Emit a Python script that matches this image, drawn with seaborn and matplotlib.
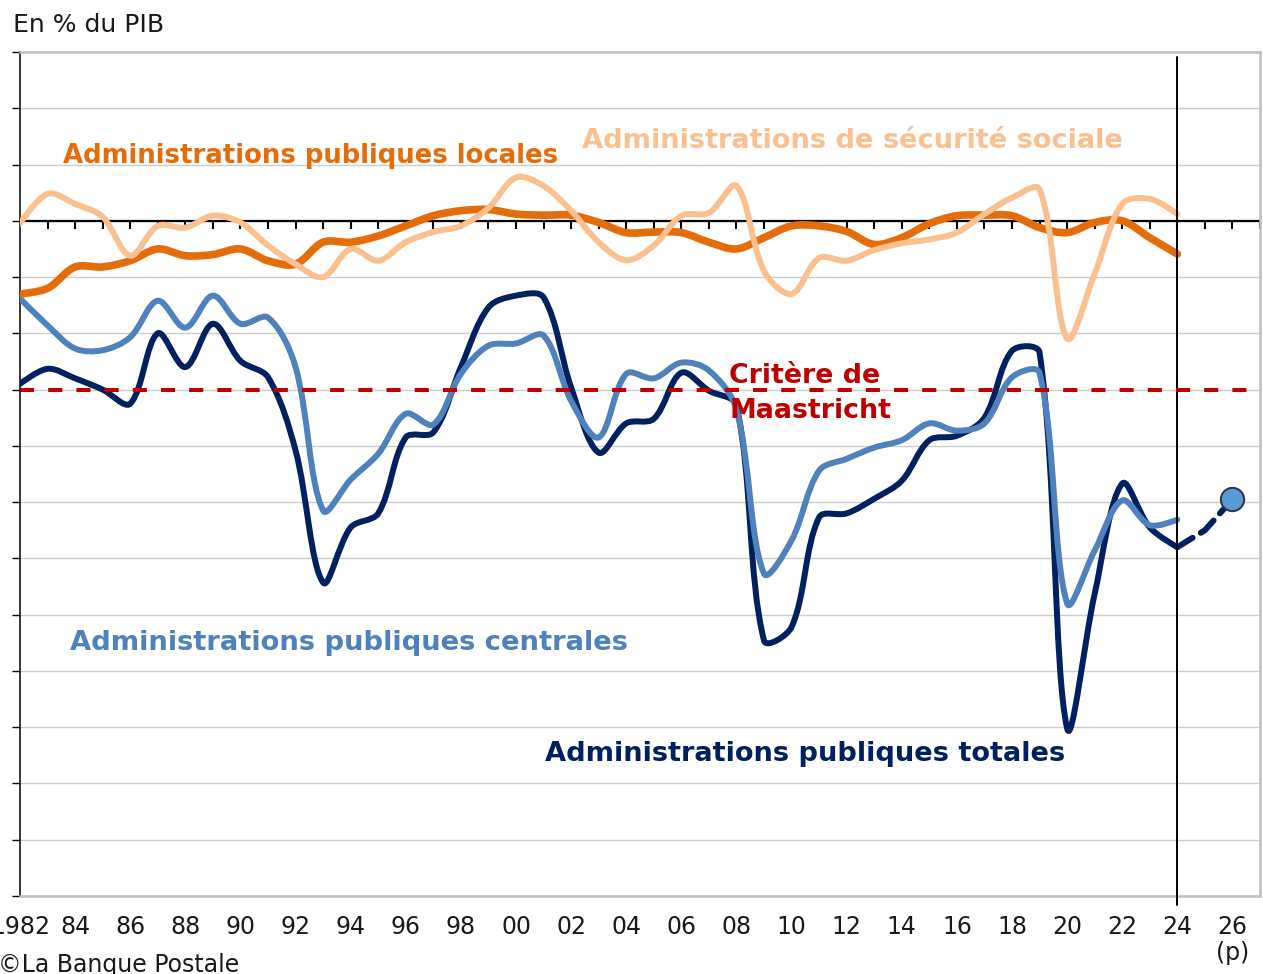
import numpy as np
import matplotlib
matplotlib.use("Agg")
import matplotlib.pyplot as plt
import seaborn as sns
from matplotlib.path import Path
from matplotlib.patches import PathPatch

# Solde des administrations publiques, en % du PIB
years = list(range(1982, 2025))

total = [-2.9, -2.63, -2.8, -3.0, -3.25, -2.0, -2.6, -1.83, -2.49, -2.78,
         -4.08, -6.43, -5.45, -5.2, -3.85, -3.76, -2.6, -1.54, -1.33, -1.36,
         -2.96, -4.12, -3.6, -3.52, -2.7, -3.02, -3.28, -7.46, -7.22, -5.27,
         -5.2, -4.94, -4.62, -3.9, -3.82, -3.5, -2.31, -2.34, -9.02, -6.63,
         -4.67, -5.45, -5.8]

centrales = [-1.38, -1.86, -2.27, -2.3, -2.07, -1.42, -1.9, -1.33, -1.83, -1.72,
             -2.6, -5.15, -4.6, -4.14, -3.43, -3.62, -2.72, -2.22, -2.18, -2.04,
             -3.2, -3.85, -2.72, -2.8, -2.52, -2.66, -3.35, -6.27, -5.68, -4.44,
             -4.23, -4.03, -3.9, -3.6, -3.73, -3.6, -2.78, -2.7, -6.8, -5.86,
             -4.97, -5.41, -5.31]

locales = [-1.3, -1.2, -0.82, -0.82, -0.71, -0.5, -0.62, -0.6, -0.5, -0.71,
           -0.77, -0.38, -0.38, -0.27, -0.09, 0.09, 0.18, 0.2, 0.12, 0.1,
           0.1, -0.03, -0.21, -0.2, -0.21, -0.38, -0.5, -0.3, -0.09, -0.09,
           -0.19, -0.42, -0.3, -0.05, 0.09, 0.1, 0.09, -0.12, -0.21, -0.03,
           0.0, -0.3, -0.59]

secu = [-0.05, 0.48, 0.3, 0.07, -0.62, -0.09, -0.12, 0.09, -0.03, -0.44,
        -0.77, -1.0, -0.5, -0.71, -0.38, -0.2, -0.09, 0.23, 0.77, 0.62,
        0.18, -0.38, -0.7, -0.44, 0.09, 0.14, 0.62, -0.89, -1.3, -0.66,
        -0.71, -0.52, -0.4, -0.33, -0.21, 0.12, 0.41, 0.56, -2.09, -0.94,
        0.3, 0.39, 0.12]

# prévision
proj_years = [2024, 2025, 2026]
proj_total = [-5.8, -5.5, -4.95]

tick_years = list(range(1982, 2027, 2))
tick_labels = ["1982"] + [str(y)[2:] for y in tick_years[1:-1]] + ["26\n(p)"]

NAVY = "#002060"
BLUE = "#4F81BD"
ORANGE = "#E46C0A"
PEACH = "#FAC090"
RED = "#C00000"

sns.set_style("white")
plt.rcParams["font.family"] = ["DejaVu Sans"]

# échelle approx. en pixels (pour un lissage proche d'Excel)
PX_YEAR, PX_PCT = 27.55, 56.33


def smooth_path(x, y):
    pts = np.column_stack([x, y]).astype(float)
    scr = pts * [PX_YEAR, PX_PCT]
    n = len(pts)
    seg = np.hypot(*np.diff(scr, axis=0).T)
    out_c, in_c = [], []
    for i in range(n):
        if i == 0 or i == n - 1:
            out_c.append(pts[i])
            in_c.append(pts[i])
            continue
        tan = pts[i + 1] - pts[i - 1]
        d0, d1 = seg[i - 1], seg[i]
        in_c.append(pts[i] - tan * d0 / (d0 + d1) / 3)
        out_c.append(pts[i] + tan * d1 / (d0 + d1) / 3)
    verts = [pts[0]]
    codes = [Path.MOVETO]
    for i in range(n - 1):
        verts += [out_c[i], in_c[i + 1], pts[i + 1]]
        codes += [Path.CURVE4] * 3
    return Path(verts, codes)


fig = plt.figure(figsize=(12.63, 9.74), dpi=100)
ax = fig.add_axes([20 / 1263, 1 - 896 / 974, 1240 / 1263, 844 / 974])

ax.set_xlim(1982, 2027)
ax.set_ylim(-12, 3)

# grille
ax.set_yticks(range(-12, 4))
ax.yaxis.grid(True, color="#CCCCCC", lw=1)
ax.set_axisbelow(True)
ax.tick_params(axis="y", left=True, length=6, width=1, color="black", labelleft=False)
ax.set_xticks(tick_years)
ax.set_xticklabels(tick_labels, fontsize=17, color="#1a1a1a", linespacing=1.1)
ax.tick_params(axis="x", length=0, pad=14)

for side in ["top", "right", "bottom"]:
    ax.spines[side].set_color("#BFBFBF")
    ax.spines[side].set_linewidth(1.8)
ax.spines["left"].set_color("black")
ax.spines["left"].set_linewidth(1.1)

# axe du zéro avec graduations annuelles
ax.axhline(0, color="black", lw=1.6, zorder=1.5)
ax.vlines(range(1983, 2028), -0.15, 0, color="black", lw=1.5, zorder=1.5)

series = [(total, NAVY, 4.3), (centrales, BLUE, 4.3), (locales, ORANGE, 5.5), (secu, PEACH, 4.3)]
for vals, col, lw in series:
    ax.add_patch(PathPatch(smooth_path(years, vals), facecolor="none", edgecolor=col,
                           lw=lw, capstyle="round", joinstyle="round", zorder=3))

sns.lineplot(x=proj_years, y=proj_total, ax=ax, color=NAVY, lw=4.3,
             linestyle=(0, (3, 1.6)), dash_capstyle="round", zorder=3)
sns.scatterplot(x=[proj_years[-1]], y=[proj_total[-1]], ax=ax, s=280, color="#5B9BD5",
                edgecolor="#2E3A4A", linewidth=1.5, zorder=5)

# critère de Maastricht
ax.axhline(-3, color=RED, lw=2.9, linestyle=(0, (3.5, 3.5)), zorder=6)

ax.axvline(2024, ymin=-0.011, ymax=0.994, color="black", lw=1.4, zorder=4, clip_on=False)

lab = dict(fontweight="bold", va="baseline", ha="left", zorder=7)
ax.text(1983.56, 1.03, "Administrations publiques locales", color=ORANGE, fontsize=18.7, **lab)
ax.text(2002.4, 1.30, "Administrations de sécurité sociale", color=PEACH, fontsize=19.6, **lab)
ax.text(1983.81, -7.63, "Administrations publiques centrales", color=BLUE, fontsize=19.7, **lab)
ax.text(2001.06, -9.60, "Administrations publiques totales", color=NAVY, fontsize=19.6, **lab)
ax.text(2007.73, -2.89, "Critère de", color=RED, fontsize=19.3, **lab)
ax.text(2007.73, -3.51, "Maastricht", color=RED, fontsize=19.3, **lab)

fig.text(13 / 1263, 1 - 32 / 974, "En % du PIB", fontsize=18, color="#1a1a1a", va="baseline")
fig.text(-2 / 1263, 2 / 974, "©La Banque Postale", fontsize=17, color="#1a1a1a", va="baseline")

fig.savefig("out.png", dpi=100)
